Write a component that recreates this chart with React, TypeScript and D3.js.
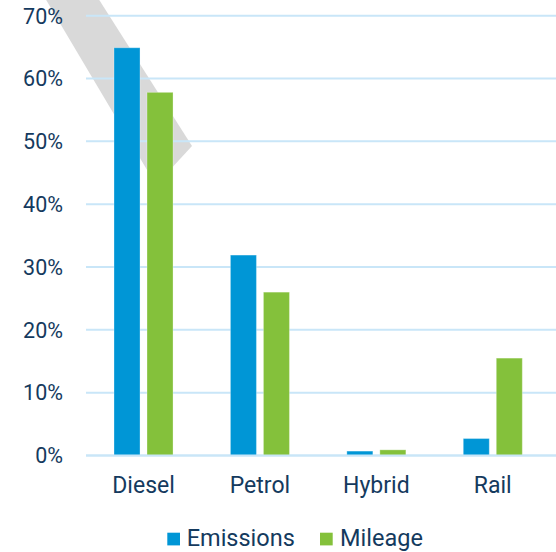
import React from "react";
import * as d3 from "d3";

const categories = ["Diesel", "Petrol", "Hybrid", "Rail"];
const seriesNames = ["Emissions", "Mileage"];
const emissions = [64.9, 31.9, 0.7, 2.7];
const mileage = [57.8, 26.0, 0.9, 15.5];
const yTicks = [0, 10, 20, 30, 40, 50, 60, 70];

const colors: Record<string, string> = { Emissions: "#0096d6", Mileage: "#84c13b" };
const textColor = "#143a5e";
const gridColor = "#c9e6f8";

export default function App() {
  const W = 556, H = 552;
  const x0 = d3.scaleBand<string>().domain(categories).range([85.3, 551]).paddingInner(0.493).paddingOuter(0.2465);
  const x1 = d3.scaleBand<string>().domain(seriesNames).range([0, x0.bandwidth()]).paddingInner(0.2121);
  const y = d3.scaleLinear().domain([0, 70]).range([455.5, 15.7]);
  const values: Record<string, number[]> = { Emissions: emissions, Mileage: mileage };

  // decorative gray diagonal band
  const band = "M45,-2 L98,-2 L192,146 L156,185 Z";

  return (
    <svg width={W} height={H} style={{ position: "absolute", left: 0, top: 0 }} fontFamily="Roboto, sans-serif">
      <path d={band} fill="#d9d9d9" />
      {yTicks.map((t) => (
        <g key={t}>
          <line x1={86} x2={556} y1={y(t)} y2={y(t)} stroke={gridColor} strokeWidth={2} />
          <text x={63} y={y(t) + 7.8} textAnchor="end" fontSize={21.5} fill={textColor}>{t}%</text>
        </g>
      ))}
      {categories.map((c, i) => (
        <g key={c} transform={`translate(${x0(c)},0)`}>
          {seriesNames.map((s) => {
            const v = values[s][i];
            return (
              <rect key={s} x={x1(s)} y={y(v)} width={x1.bandwidth()} height={y(0) - y(v)}
                fill={colors[s]} stroke="#ffffff" strokeOpacity={0.3} strokeWidth={1} />
            );
          })}
          <text x={x0.bandwidth() / 2} y={493.3} textAnchor="middle" fontSize={23} fill={textColor}>{c}</text>
        </g>
      ))}
      <line x1={86} x2={556} y1={y(0)} y2={y(0)} stroke={gridColor} strokeWidth={2} />
      <g>
        <rect x={167.3} y={532.7} width={12.7} height={12.7} fill={colors.Emissions} />
        <text x={186.7} y={546} fontSize={23.5} fill={textColor}>Emissions</text>
        <rect x={320} y={532.7} width={12.7} height={12.7} fill={colors.Mileage} />
        <text x={340} y={546} fontSize={23.5} fill={textColor}>Mileage</text>
      </g>
    </svg>
  );
}
